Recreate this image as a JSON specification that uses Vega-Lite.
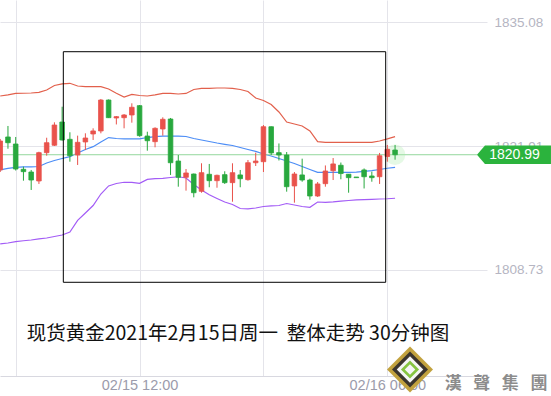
{
  "$schema": "https://vega.github.io/schema/vega-lite/v6.json",
  "width": 487,
  "height": 376,
  "padding": {"left": 0, "top": 0, "right": 64, "bottom": 20},
  "autosize": {"type": "none"},
  "background": "white",
  "config": {"view": {"stroke": null}},
  "data": {"values": [
    {"i":0,"o":1819.37,"h":1822.67,"l":1819.15,"c":1822.45,"up":1827.24,"mid":1819.37,"lo":1811.50},
    {"i":1,"o":1822.88,"h":1824.05,"l":1821.63,"c":1822.27,"up":1827.35,"mid":1819.53,"lo":1811.60},
    {"i":2,"o":1822.13,"h":1822.88,"l":1819.31,"c":1819.47,"up":1827.51,"mid":1819.65,"lo":1811.74},
    {"i":3,"o":1819.44,"h":1819.72,"l":1818.23,"c":1819.19,"up":1827.53,"mid":1819.69,"lo":1811.84},
    {"i":4,"o":1819.15,"h":1819.37,"l":1817.24,"c":1818.30,"up":1827.56,"mid":1819.69,"lo":1811.92},
    {"i":5,"o":1818.20,"h":1821.31,"l":1817.88,"c":1821.21,"up":1827.63,"mid":1819.74,"lo":1812.03},
    {"i":6,"o":1821.21,"h":1822.80,"l":1820.89,"c":1822.27,"up":1827.88,"mid":1820.11,"lo":1812.13},
    {"i":7,"o":1822.00,"h":1824.44,"l":1821.92,"c":1824.15,"up":1828.36,"mid":1820.38,"lo":1812.29},
    {"i":8,"o":1824.47,"h":1826.10,"l":1822.50,"c":1822.56,"up":1828.52,"mid":1820.59,"lo":1812.45},
    {"i":9,"o":1822.63,"h":1823.38,"l":1820.25,"c":1820.89,"up":1828.59,"mid":1820.78,"lo":1812.77},
    {"i":10,"o":1820.96,"h":1823.02,"l":1819.90,"c":1822.31,"up":1828.30,"mid":1821.18,"lo":1814.00},
    {"i":11,"o":1822.35,"h":1823.27,"l":1821.49,"c":1822.77,"up":1828.23,"mid":1821.55,"lo":1814.79},
    {"i":12,"o":1823.20,"h":1823.80,"l":1822.56,"c":1823.52,"up":1828.23,"mid":1821.85,"lo":1815.59},
    {"i":13,"o":1823.52,"h":1826.92,"l":1823.27,"c":1826.81,"up":1828.23,"mid":1822.35,"lo":1816.81},
    {"i":14,"o":1826.81,"h":1826.87,"l":1824.90,"c":1824.93,"up":1827.98,"mid":1822.82,"lo":1817.67},
    {"i":15,"o":1824.90,"h":1825.11,"l":1824.21,"c":1825.04,"up":1827.53,"mid":1822.72,"lo":1817.93},
    {"i":16,"o":1824.93,"h":1825.32,"l":1823.80,"c":1825.22,"up":1827.13,"mid":1822.67,"lo":1818.06},
    {"i":17,"o":1825.22,"h":1826.46,"l":1824.40,"c":1826.04,"up":1827.40,"mid":1822.67,"lo":1818.04},
    {"i":18,"o":1826.21,"h":1826.28,"l":1822.91,"c":1823.02,"up":1827.29,"mid":1822.67,"lo":1817.95},
    {"i":19,"o":1822.98,"h":1823.44,"l":1821.42,"c":1822.48,"up":1827.24,"mid":1822.82,"lo":1818.36},
    {"i":20,"o":1822.38,"h":1823.91,"l":1821.78,"c":1823.80,"up":1827.35,"mid":1822.91,"lo":1818.44},
    {"i":21,"o":1823.73,"h":1824.97,"l":1823.02,"c":1824.76,"up":1827.51,"mid":1822.98,"lo":1818.48},
    {"i":22,"o":1824.79,"h":1824.90,"l":1818.84,"c":1820.14,"up":1827.51,"mid":1822.98,"lo":1818.57},
    {"i":23,"o":1820.32,"h":1820.96,"l":1817.59,"c":1818.59,"up":1827.45,"mid":1822.98,"lo":1818.65},
    {"i":24,"o":1818.59,"h":1819.47,"l":1817.17,"c":1819.05,"up":1827.51,"mid":1822.93,"lo":1818.52},
    {"i":25,"o":1818.94,"h":1818.99,"l":1816.46,"c":1816.95,"up":1827.93,"mid":1822.72,"lo":1817.82},
    {"i":26,"o":1817.10,"h":1820.08,"l":1816.95,"c":1819.08,"up":1828.04,"mid":1822.56,"lo":1817.24},
    {"i":27,"o":1818.91,"h":1820.01,"l":1817.53,"c":1818.23,"up":1828.06,"mid":1822.40,"lo":1816.73},
    {"i":28,"o":1818.23,"h":1818.87,"l":1817.48,"c":1818.80,"up":1828.09,"mid":1822.24,"lo":1816.34},
    {"i":29,"o":1818.87,"h":1819.23,"l":1817.88,"c":1818.02,"up":1828.09,"mid":1822.10,"lo":1815.96},
    {"i":30,"o":1818.02,"h":1820.08,"l":1815.99,"c":1819.08,"up":1828.04,"mid":1821.97,"lo":1815.70},
    {"i":31,"o":1818.84,"h":1819.37,"l":1817.53,"c":1818.44,"up":1827.93,"mid":1821.76,"lo":1815.27},
    {"i":32,"o":1818.34,"h":1820.43,"l":1818.23,"c":1820.14,"up":1827.72,"mid":1821.55,"lo":1815.22},
    {"i":33,"o":1820.14,"h":1821.21,"l":1819.79,"c":1820.32,"up":1827.03,"mid":1821.34,"lo":1815.32},
    {"i":34,"o":1820.25,"h":1824.15,"l":1819.15,"c":1823.97,"up":1826.76,"mid":1821.07,"lo":1815.48},
    {"i":35,"o":1823.97,"h":1824.00,"l":1820.96,"c":1821.18,"up":1826.34,"mid":1820.86,"lo":1815.54},
    {"i":36,"o":1821.21,"h":1822.19,"l":1820.38,"c":1820.96,"up":1825.54,"mid":1820.59,"lo":1815.59},
    {"i":37,"o":1820.96,"h":1821.28,"l":1817.06,"c":1817.59,"up":1824.47,"mid":1820.32,"lo":1815.80},
    {"i":38,"o":1817.67,"h":1819.15,"l":1815.89,"c":1818.94,"up":1824.26,"mid":1820.06,"lo":1815.64},
    {"i":39,"o":1818.84,"h":1820.57,"l":1818.12,"c":1818.30,"up":1824.05,"mid":1819.74,"lo":1815.48},
    {"i":40,"o":1818.30,"h":1818.44,"l":1816.21,"c":1816.60,"up":1823.52,"mid":1819.42,"lo":1815.40},
    {"i":41,"o":1816.60,"h":1818.09,"l":1816.50,"c":1817.88,"up":1822.38,"mid":1819.12,"lo":1815.96},
    {"i":42,"o":1817.91,"h":1819.85,"l":1817.59,"c":1819.26,"up":1822.31,"mid":1819.12,"lo":1815.93},
    {"i":43,"o":1819.29,"h":1820.64,"l":1818.30,"c":1820.01,"up":1822.31,"mid":1819.12,"lo":1815.98},
    {"i":44,"o":1819.87,"h":1820.16,"l":1818.38,"c":1818.99,"up":1822.31,"mid":1819.12,"lo":1816.05},
    {"i":45,"o":1818.92,"h":1818.94,"l":1816.95,"c":1818.55,"up":1822.31,"mid":1819.12,"lo":1816.12},
    {"i":46,"o":1818.62,"h":1818.62,"l":1818.55,"c":1818.55,"up":1822.31,"mid":1819.15,"lo":1816.18},
    {"i":47,"o":1819.37,"h":1819.53,"l":1817.40,"c":1818.65,"up":1822.31,"mid":1819.21,"lo":1816.21},
    {"i":48,"o":1818.73,"h":1819.19,"l":1818.12,"c":1818.55,"up":1822.31,"mid":1819.29,"lo":1816.25},
    {"i":49,"o":1818.65,"h":1821.18,"l":1817.88,"c":1820.88,"up":1822.45,"mid":1819.42,"lo":1816.28},
    {"i":50,"o":1820.80,"h":1822.03,"l":1820.25,"c":1821.57,"up":1822.67,"mid":1819.55,"lo":1816.31},
    {"i":51,"o":1821.49,"h":1822.03,"l":1820.46,"c":1820.99,"up":1822.91,"mid":1819.65,"lo":1816.36}
  ]},
  "layer": [
    {
      "encoding": {
        "x": {
          "field": "i", "type": "quantitative", "title": null,
          "scale": {"domain": [-0.0284, 62.875], "nice": false, "zero": false, "padding": 0},
          "axis": {
            "orient": "bottom", "values": [2, 18, 34, 50],
            "labelExpr": "datum.value == 18 ? '02/15 12:00' : datum.value == 50 ? '02/16 06:00' : ''",
            "grid": true, "gridColor": "#e4e4ea", "gridWidth": 1,
            "ticks": false, "domain": true, "domainColor": "#d8d8e0",
            "labelColor": "#9b9bab", "labelFont": "Liberation Sans", "labelFontSize": 14.5,
            "labelPadding": 9, "labelBaseline": "middle", "labelFlush": false, "labelOverlap": false,
            "title": null
          }
        },
        "y": {
          "type": "quantitative", "title": null,
          "scale": {"domain": [1797.45, 1837.452], "nice": false, "zero": false, "padding": 0},
          "axis": {
            "orient": "right", "values": [1808.73, 1821.91, 1835.08], "format": ".2f",
            "grid": true, "gridColor": "#e4e4ea", "gridWidth": 1,
            "ticks": false, "domain": false,
            "labelColor": "#b5b5c2", "labelFont": "Liberation Sans", "labelFontSize": 13.5,
            "labelPadding": 7, "labelBaseline": "middle", "labelFlush": false, "labelOverlap": false,
            "title": null
          }
        }
      },
      "layer": [
        {"mark": {"type": "line", "color": "#e2604c", "strokeWidth": 1.2}, "encoding": {"y": {"field": "up"}}},
        {"mark": {"type": "line", "color": "#4c8df6", "strokeWidth": 1.2}, "encoding": {"y": {"field": "mid"}}},
        {"mark": {"type": "line", "color": "#a35cf6", "strokeWidth": 1.2}, "encoding": {"y": {"field": "lo"}}}
      ]
    },
    {
      "transform": [{"filter": "datum.i == 51"}],
      "mark": {"type": "rule", "color": "#93d79c", "strokeWidth": 1},
      "encoding": {
        "x": {"datum": -0.0284, "type": "quantitative", "title": null},
        "x2": {"datum": 61.6},
        "y": {"field": "c", "type": "quantitative", "title": null}
      }
    },
    {
      "encoding": {
        "x": {
          "field": "i", "type": "quantitative", "title": null,
          "scale": {"domain": [-0.0284, 62.875], "nice": false, "zero": false, "padding": 0},
          "axis": {
            "orient": "bottom", "values": [2, 18, 34, 50],
            "labelExpr": "datum.value == 18 ? '02/15 12:00' : datum.value == 50 ? '02/16 06:00' : ''",
            "grid": true, "gridColor": "#e4e4ea", "gridWidth": 1,
            "ticks": false, "domain": true, "domainColor": "#d8d8e0",
            "labelColor": "#9b9bab", "labelFont": "Liberation Sans", "labelFontSize": 14.5,
            "labelPadding": 9, "labelBaseline": "middle", "labelFlush": false, "labelOverlap": false,
            "title": null
          }
        },
        "y": {
          "type": "quantitative", "title": null,
          "scale": {"domain": [1797.45, 1837.452], "nice": false, "zero": false, "padding": 0},
          "axis": {
            "orient": "right", "values": [1808.73, 1821.91, 1835.08], "format": ".2f",
            "grid": true, "gridColor": "#e4e4ea", "gridWidth": 1,
            "ticks": false, "domain": false,
            "labelColor": "#b5b5c2", "labelFont": "Liberation Sans", "labelFontSize": 13.5,
            "labelPadding": 7, "labelBaseline": "middle", "labelFlush": false, "labelOverlap": false,
            "title": null
          }
        }
      },
      "layer": [
        {
          "transform": [{"filter": "datum.i == 51"}],
          "mark": {"type": "point", "shape": "circle", "filled": true, "color": "#a8eaa8", "opacity": 0.3, "size": 420},
          "encoding": {"y": {"field": "c"}}
        },
        {
          "mark": {"type": "rule", "strokeWidth": 1},
          "encoding": {
            "y": {"field": "l"},
            "y2": {"field": "h"},
            "color": {"condition": {"test": "datum.c >= datum.o", "value": "#e9524b"}, "value": "#28a83e"}
          }
        },
        {
          "mark": {"type": "bar", "size": 4.6, "strokeWidth": 0.8},
          "encoding": {
            "y": {"field": "o"},
            "y2": {"field": "c"},
            "color": {"condition": {"test": "datum.c >= datum.o", "value": "#e9524b"}, "value": "#28a83e"},
            "stroke": {"condition": {"test": "datum.c >= datum.o", "value": "#e9524b"}, "value": "#28a83e"}
          }
        }
      ]
    },
    {
      "data": {"values": [{"note": "box"}]},
      "mark": {"type": "rect", "fillOpacity": 0, "fill": "#ffffff", "stroke": "#000000", "strokeWidth": 1},
      "encoding": {
        "x": {"datum": 8.15, "type": "quantitative", "title": null},
        "x2": {"datum": 49.79},
        "y": {"datum": 1831.95, "type": "quantitative", "title": null},
        "y2": {"datum": 1807.42}
      }
    },
    {
      "transform": [{"filter": "datum.i == 51"}],
      "mark": {"type": "point", "shape": "M0,0L0.216,-0.251L2,-0.251L2,0.251L0.216,0.251Z", "filled": true, "color": "#2bb33d", "opacity": 1, "size": 5476, "clip": false},
      "encoding": {
        "x": {"datum": 61.58, "type": "quantitative", "title": null},
        "y": {"field": "c", "type": "quantitative", "title": null}
      }
    },
    {
      "transform": [{"filter": "datum.i == 51"}],
      "mark": {"type": "text", "align": "center", "baseline": "middle", "font": "Liberation Sans", "fontSize": 14, "color": "#ffffff", "clip": false},
      "encoding": {
        "x": {"datum": 66.43, "type": "quantitative", "title": null},
        "y": {"field": "c", "type": "quantitative", "title": null},
        "text": {"field": "c", "type": "quantitative", "format": ".2f"}
      }
    },
    {
      "data": {"values": [{"title": "现货黄金2021年2月15日周一\u00a0\u00a0整体走势 30分钟图"}]},
      "mark": {"type": "text", "align": "left", "baseline": "middle", "font": "Noto Sans CJK SC", "fontSize": 19.5, "color": "#111111"},
      "encoding": {
        "x": {"datum": 3.42, "type": "quantitative", "title": null},
        "y": {"datum": 1801.92, "type": "quantitative", "title": null},
        "text": {"field": "title", "type": "nominal"}
      }
    },
    {
      "data": {"values": [{"s": 2116, "f": "#c2a23e"}, {"s": 1300, "f": "#3b352d"}, {"s": 700, "f": "#f6f6f6"}, {"s": 330, "f": "#86c440"}, {"s": 110, "f": "#f6f6f6"}]},
      "mark": {"type": "point", "shape": "diamond", "filled": true, "opacity": 1, "clip": false},
      "encoding": {
        "x": {"datum": 52.93, "type": "quantitative", "title": null},
        "y": {"datum": 1798.14, "type": "quantitative", "title": null},
        "size": {"field": "s", "type": "quantitative", "scale": null, "legend": null},
        "color": {"field": "f", "type": "nominal", "scale": null, "legend": null},
        "order": {"field": "s", "sort": "descending"}
      }
    },
    {
      "data": {"values": [{"brand": "漢\u00a0\u00a0\u00a0聲\u00a0\u00a0\u00a0集\u00a0\u00a0\u00a0團"}]},
      "mark": {"type": "text", "align": "center", "baseline": "middle", "font": "Noto Sans CJK TC", "fontSize": 17, "fontWeight": "bold", "color": "#8c8c8c", "clip": false},
      "encoding": {
        "x": {"datum": 64.04, "type": "quantitative", "title": null},
        "y": {"datum": 1796.55, "type": "quantitative", "title": null},
        "text": {"field": "brand", "type": "nominal"}
      }
    }
  ]
}
